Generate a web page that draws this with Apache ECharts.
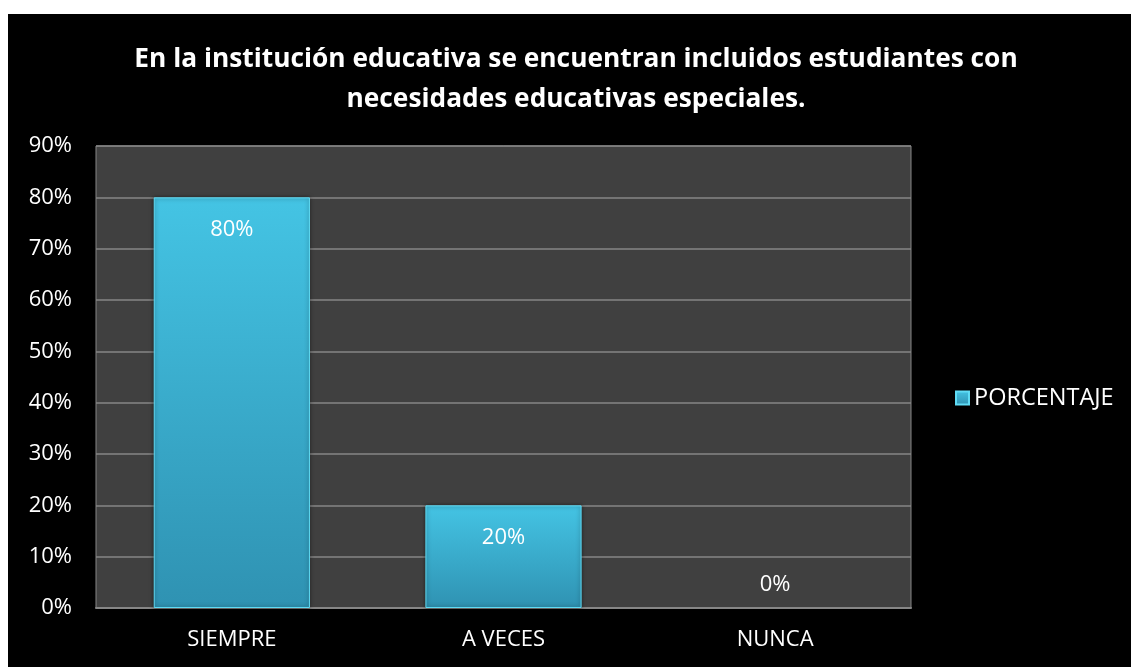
<!DOCTYPE html>
<html>
<head>
<meta charset="utf-8">
<script src="https://cdn.jsdelivr.net/npm/echarts@6/dist/echarts.min.js"></script>
<style>
  html, body { margin: 0; padding: 0; background: #fff; }
  #chart { width: 1131px; height: 667px; }
</style>
</head>
<body>
<div id="chart"></div>
<script>
const categories = ["SIEMPRE", "A VECES", "NUNCA"];
const porcentaje = [80, 20, 0];
const yTicks = [0, 10, 20, 30, 40, 50, 60, 70, 80, 90];
const seriesName = "PORCENTAJE";
const titleText = "En la institución educativa se encuentran incluidos estudiantes con\nnecesidades educativas especiales.";

const font = "'Open Sans', 'Noto Sans', sans-serif";

const barColor = new echarts.graphic.LinearGradient(0, 0, 0, 1, [
  { offset: 0, color: "#44c4e4" },
  { offset: 1, color: "#2f92b2" },
]);

const chart = echarts.init(document.getElementById("chart"));
chart.setOption({
  backgroundColor: "#ffffff",
  graphic: [
    {
      type: "rect",
      left: 8,
      top: 14,
      z: -10,
      shape: { width: 1123, height: 653 },
      style: { fill: "#000000" },
    },
  ],
  title: {
    text: titleText,
    left: 576,
    textAlign: "center",
    top: 40,
    padding: 0,
    textStyle: {
      color: "#ffffff",
      fontFamily: font,
      fontWeight: "bold",
      fontSize: 26.3,
      lineHeight: 40,
    },
  },
  legend: {
    data: [seriesName],
    left: 950,
    top: 381,
    orient: "vertical",
    icon: "rect",
    itemWidth: 13,
    itemHeight: 13,
    itemGap: 6,
    textStyle: { color: "#ffffff", fontFamily: font, fontSize: 23.5 },
  },
  grid: {
    left: 96,
    top: 146,
    width: 815,
    height: 462,
    show: true,
    backgroundColor: "#404040",
    borderColor: "#868686",
    borderWidth: 1,
  },
  xAxis: {
    type: "category",
    data: categories,
    axisLine: { lineStyle: { color: "#868686", width: 2 } },
    axisTick: { show: false },
    axisLabel: { color: "#ffffff", fontFamily: font, fontSize: 22, margin: 21 },
  },
  yAxis: {
    type: "value",
    min: yTicks[0],
    max: yTicks[yTicks.length - 1],
    interval: 10,
    axisLine: { show: false },
    axisTick: { show: false },
    splitLine: { lineStyle: { color: "#868686", width: 1.5 } },
    axisLabel: {
      color: "#ffffff",
      fontFamily: font,
      fontSize: 22,
      margin: 24,
      formatter: (v) => v + "%",
    },
  },
  series: [
    {
      name: seriesName,
      type: "bar",
      barWidth: "57.5%",
      data: porcentaje.map((v) => ({
        value: v,
        itemStyle: v === 0 ? { borderWidth: 0, color: "rgba(0,0,0,0)", shadowBlur: 0 } : {},
        label: v === 0 ? { position: "top", distance: 12 } : { position: "insideTop", distance: 21 },
      })),
      itemStyle: {
        color: barColor,
        borderColor: "#5fdcf5",
        borderWidth: 1,
        shadowColor: "rgba(0,0,0,0.5)",
        shadowBlur: 4,
      },
      label: {
        show: true,
        color: "#ffffff",
        fontFamily: font,
        fontSize: 22,
        formatter: (p) => p.value + "%",
      },
    },
  ],
});
</script>
</body>
</html>
